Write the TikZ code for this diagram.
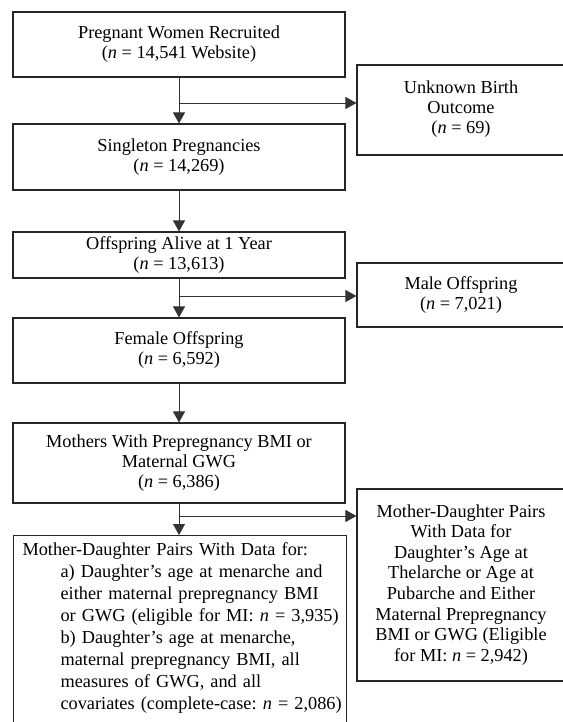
\documentclass[tikz,border=0pt]{standalone}
\usepackage{fontspec}
\setmainfont{Liberation Serif}
\usetikzlibrary{arrows.meta}
\frenchspacing
\begin{document}
\begin{tikzpicture}[x=1pt,y=-1pt,
  box/.style={draw=black!85, line width=1.1pt, rectangle, inner sep=0pt, align=center,
    font=\fontsize{18.3pt}{20pt}\selectfont\frenchspacing},
  rbox/.style={box, minimum width=226pt},
  flow/.style={draw=black!80, line width=0.9pt, -{Triangle[length=11pt,width=12pt]}}]
\useasboundingbox (0,0) rectangle (562,722);

\node[box, minimum width=332pt, minimum height=65pt] (b1) at (179,44.5)
  {Pregnant Women Recruited\\(\textit{n} = 14,541 Website)};
\node[rbox, minimum height=90pt] (unk) at (470,110)
  {\begin{tabular}{@{}c@{}}Unknown Birth\\Outcome\\(\textit{n} = 69)\end{tabular}\hspace{18pt}};
\node[box, minimum width=332pt, minimum height=66pt] (b2) at (179,157)
  {Singleton Pregnancies\\(\textit{n} = 14,269)};
\node[box, minimum width=332pt, minimum height=46pt] (b3) at (179,255)
  {Offspring Alive at 1 Year\\(\textit{n} = 13,613)};
\node[rbox, minimum height=64pt] (male) at (470,295)
  {\begin{tabular}{@{}c@{}}Male Offspring\\(\textit{n} = 7,021)\end{tabular}\hspace{18pt}};
\node[box, minimum width=332pt, minimum height=65pt] (b4) at (179,350.5)
  {Female Offspring\\(\textit{n} = 6,592)};
\node[box, minimum width=332pt, minimum height=80pt] (b5) at (179,463)
  {Mothers With Prepregnancy BMI or\\Maternal GWG\\(\textit{n} = 6,386)};
\node[rbox, minimum height=192pt, font=\fontsize{18.3pt}{20.6pt}\selectfont\frenchspacing] (mdr) at (470,585)
  {\begin{tabular}{@{}c@{}}Mother-Daughter Pairs\\With Data for\\Daughter’s Age at\\Thelarche or Age at\\Pubarche and Either\\Maternal Prepregnancy\\BMI or GWG (Eligible\\for MI: \textit{n} = 2,942)\end{tabular}\hspace{18pt}};
\node[box, anchor=north west, text width=315pt, inner xsep=9pt, inner ysep=7pt, align=left,
      font=\fontsize{18.3pt}{22pt}\selectfont\frenchspacing, text depth=200pt] (b6) at (13,535)
  {\mbox{Mother-Daughter Pairs With Data for:}\\
   \mbox{\hspace{38pt}a) Daughter’s age at menarche and}\\
   \mbox{\hspace{38pt}either maternal prepregnancy BMI}\\
   \mbox{\hspace{38pt}or GWG (eligible for MI: \textit{n} = 3,935)}\\
   \mbox{\hspace{38pt}b) Daughter’s age at menarche,}\\
   \mbox{\hspace{38pt}maternal prepregnancy BMI, all}\\
   \mbox{\hspace{38pt}measures of GWG, and all}\\
   \mbox{\hspace{38pt}covariates (complete-case: \textit{n} = 2,086)}};

\coordinate (j1) at (179,103);
\coordinate (j2) at (179,296);
\coordinate (j3) at (179,516);

\draw[flow] (b1) -- (b2);
\draw[flow] (j1) -- (j1 -| unk.west);
\draw[flow] (b2) -- (b3);
\draw[flow] (b3) -- (b4);
\draw[flow] (j2) -- (j2 -| male.west);
\draw[flow] (b4) -- (b5);
\draw[flow] (b5.south) -- (b5.south |- b6.north);
\draw[flow] (j3) -- (j3 -| mdr.west);
\end{tikzpicture}
\end{document}
